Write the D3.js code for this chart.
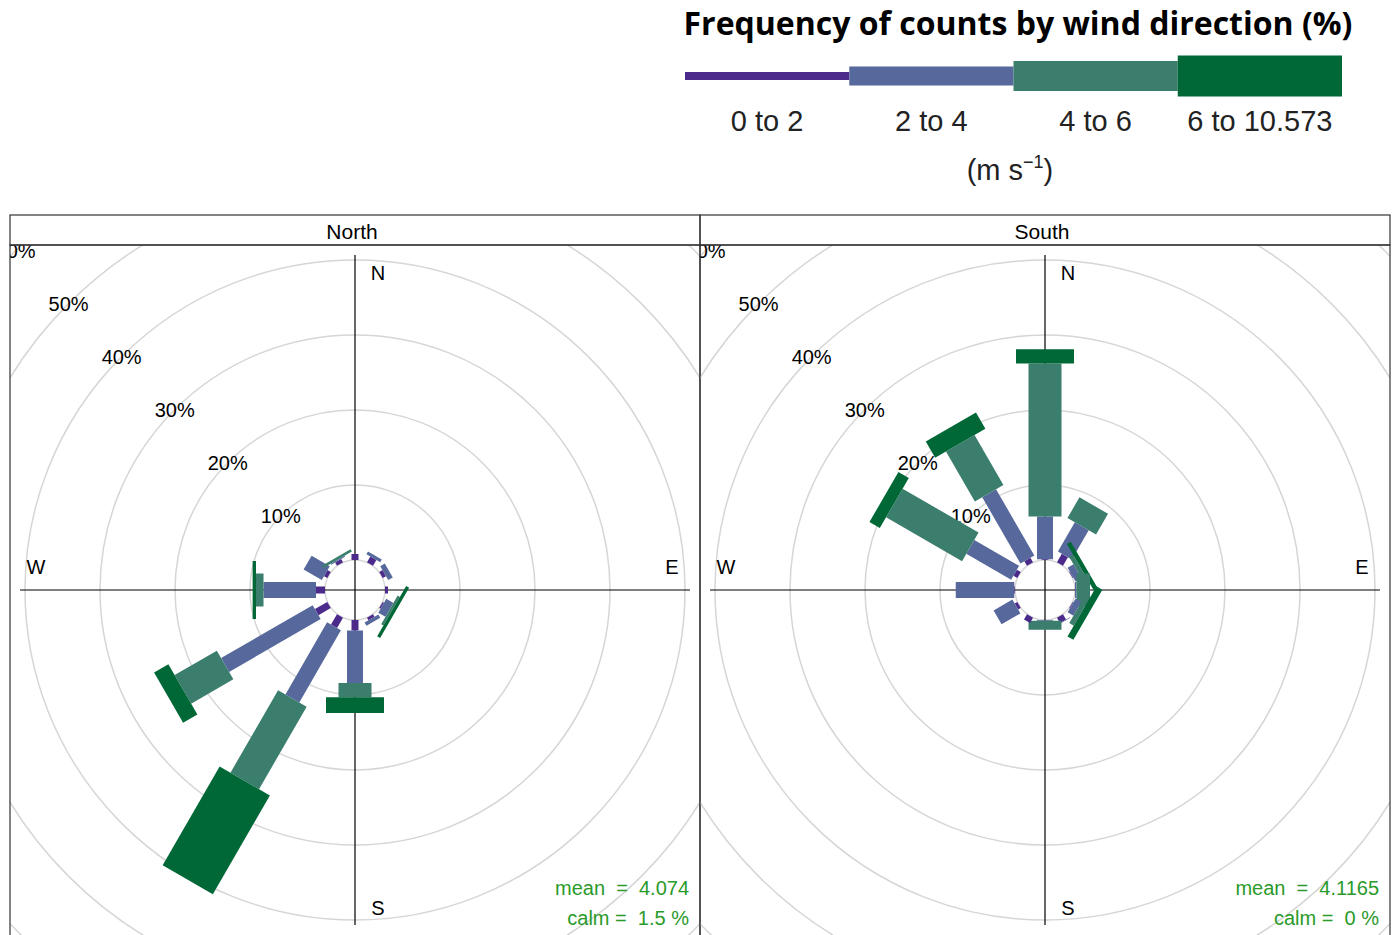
<!DOCTYPE html>
<html>
<head>
<meta charset="utf-8">
<script src="https://cdn.jsdelivr.net/npm/d3@7"></script>
<style>
  body { margin: 0; background: #fff; }
  svg text { font-family: "Liberation Sans", Arial, sans-serif; }
</style>
</head>
<body>
<svg id="chart" width="1394" height="935"></svg>
<script>
var width = 1394, height = 935;

// wind directions (degrees) and speed bins
var directions = [0, 30, 60, 90, 120, 150, 180, 210, 240, 270, 300, 330];
var speedBins = ['0 to 2', '2 to 4', '4 to 6', '6 to 10.573'];
var binColors = ['#4b2a8c', '#57699c', '#3c7e6d', '#006837'];
var panels = ['North', 'South'];
var gridTicks = [0, 10, 20, 30, 40, 50, 60];
var tickLabels = ['10%', '20%', '30%', '40%', '50%', '60%'];

// frequency (%) per direction, one array per speed bin
var north0to2 = [0.8, 0.9, 0.5, 0.4, 0.2, 0.4, 1.4, 1.6, 1.9, 1.2, 0.5, 0.5];
var north2to4 = [0, 0.4, 0.7, 0, 1.1, 0.5, 7.0, 11.1, 14.1, 7.0, 2.8, 0.15];
var north4to6 = [0, 0, 0, 0, 0.35, 0, 1.9, 12.7, 6.5, 1.0, 0, 0.35];
var north6plus = [0, 0, 0, 0, 0.45, 0, 2.1, 15.2, 2.2, 0.45, 0, 0];

var south0to2 = [0.1, 1.3, 0.1, 0, 0.1, 0.8, 0, 0.8, 0.4, 0.1, 0.6, 0.7];
var south2to4 = [5.7, 4.5, 0.9, 0.2, 0.9, 0.1, 0.1, 0, 2.9, 7.8, 6.9, 10.2];
var south4to6 = [20.4, 3.2, 0.6, 1.8, 0.7, 0, 1.2, 0, 0, 0, 11.7, 7.7];
var south6plus = [1.9, 0, 0.6, 0, 0.9, 0, 0, 0, 0, 0, 1.6, 2.5];

var meanSpeed = ['4.074', '4.1165'];
var calmPct = ['1.5', '0'];

var panelData = [
    [north0to2, north2to4, north4to6, north6plus],
    [south0to2, south2to4, south4to6, south6plus]
];

var svg = d3.select('#chart');

// ---- title + legend ----
svg.append('text')
    .attr('x', 1018).attr('y', 35)
    .attr('text-anchor', 'middle')
    .style('font-family', '"Open Sans", "Noto Sans", sans-serif')
    .style('font-weight', 700)
    .style('font-size', '32px')
    .text('Frequency of counts by wind direction (%)');

var legX = d3.scaleBand().domain(speedBins).range([685, 1342]);
var legH = d3.scaleOrdinal().domain(speedBins).range([8, 19, 30, 41]);
var color = d3.scaleOrdinal().domain(speedBins).range(binColors);

svg.append('g').selectAll('rect').data(speedBins).enter().append('rect')
    .attr('x', (d) => legX(d))
    .attr('width', legX.bandwidth())
    .attr('y', (d) => 76 - legH(d) / 2)
    .attr('height', (d) => legH(d))
    .attr('fill', (d) => color(d));

svg.append('g').selectAll('text').data(speedBins).enter().append('text')
    .attr('x', (d) => legX(d) + legX.bandwidth() / 2)
    .attr('y', 131)
    .attr('text-anchor', 'middle')
    .style('font-size', '29px')
    .attr('fill', '#222')
    .text((d) => d);

var unit = svg.append('text')
    .attr('x', 1010).attr('y', 180)
    .attr('text-anchor', 'middle')
    .style('font-size', '29px')
    .attr('fill', '#222');
unit.append('tspan').text('(m s');
unit.append('tspan').attr('dy', -12).style('font-size', '18px').text('\u22121');
unit.append('tspan').attr('dy', 12).text(')');

// ---- panels ----
var r = d3.scaleLinear().domain([0, 60]).range([30, 480]);
var binWidth = d3.scaleOrdinal().domain(speedBins).range([7, 16, 33, 58]);
var panelX = d3.scaleBand().domain(panels).range([10, 1390]);
var stripTop = 215, plotTop = 245, plotBottom = 940, cy = 590;

panels.forEach(function (name, pi) {
    var x0 = panelX(name), pw = panelX.bandwidth();
    var cx = x0 + pw / 2;

    svg.append('clipPath').attr('id', 'clip' + pi)
        .append('rect')
        .attr('x', x0).attr('y', plotTop)
        .attr('width', pw).attr('height', plotBottom - plotTop);

    var g = svg.append('g').attr('clip-path', 'url(#clip' + pi + ')');

    // grid rings
    g.selectAll('circle.grid').data(gridTicks).enter().append('circle')
        .attr('class', 'grid')
        .attr('cx', cx).attr('cy', cy)
        .attr('r', (d) => r(d))
        .attr('fill', 'none')
        .attr('stroke', '#d6d6d6')
        .attr('stroke-width', 1.5);

    // axes
    g.append('line').attr('x1', cx - 335).attr('x2', cx + 335)
        .attr('y1', cy).attr('y2', cy).attr('stroke', '#000').attr('stroke-width', 1.2);
    g.append('line').attr('x1', cx).attr('x2', cx)
        .attr('y1', cy - 335).attr('y2', cy + 335).attr('stroke', '#000').attr('stroke-width', 1.2);

    // percent labels along the NW diagonal (outermost one is clipped by the panel, as in the original)
    g.selectAll('text.pct').data(gridTicks.slice(1)).enter().append('text')
        .attr('class', 'pct')
        .attr('x', (d) => cx - r(d) * Math.SQRT1_2)
        .attr('y', (d) => cy - r(d) * Math.SQRT1_2 + 7)
        .attr('text-anchor', 'middle')
        .style('font-size', '20px')
        .text((d, i) => tickLabels[i]);

    // compass labels
    var compass = [
        { t: 'N', x: cx + 23, y: cy - 310 },
        { t: 'E', x: cx + 317, y: cy - 16 },
        { t: 'S', x: cx + 23, y: cy + 325 },
        { t: 'W', x: cx - 319, y: cy - 16 }
    ];
    g.selectAll('text.dir').data(compass).enter().append('text')
        .attr('class', 'dir')
        .attr('x', (d) => d.x).attr('y', (d) => d.y)
        .attr('text-anchor', 'middle')
        .style('font-size', '20px')
        .text((d) => d.t);

    // paddles
    var bins = panelData[pi];
    var paddles = [];
    directions.forEach(function (dir, di) {
        var cum = 0;
        speedBins.forEach(function (b, bi) {
            var v = bins[bi][di];
            if (v > 0) paddles.push({ dir: dir, bin: b, lo: cum, hi: cum + v });
            cum += v;
        });
    });
    g.selectAll('rect.paddle').data(paddles).enter().append('rect')
        .attr('class', 'paddle')
        .attr('transform', (d) => 'translate(' + cx + ',' + cy + ') rotate(' + d.dir + ')')
        .attr('x', (d) => -binWidth(d.bin) / 2)
        .attr('width', (d) => binWidth(d.bin))
        .attr('y', (d) => -r(d.hi))
        .attr('height', (d) => r(d.hi) - r(d.lo))
        .attr('fill', (d) => color(d.bin));

    // mean / calm
    g.append('text')
        .attr('x', x0 + pw - 11).attr('y', 895)
        .attr('text-anchor', 'end')
        .style('font-size', '20px').style('white-space', 'pre')
        .attr('fill', '#2a9a2a')
        .text('mean  =  ' + meanSpeed[pi]);
    g.append('text')
        .attr('x', x0 + pw - 11).attr('y', 925)
        .attr('text-anchor', 'end')
        .style('font-size', '20px').style('white-space', 'pre')
        .attr('fill', '#2a9a2a')
        .text('calm =  ' + calmPct[pi] + ' %');

    // strip + panel border
    svg.append('rect').attr('x', x0).attr('y', stripTop)
        .attr('width', pw).attr('height', plotTop - stripTop)
        .attr('fill', 'none').attr('stroke', '#333').attr('stroke-width', 1.2);
    svg.append('rect').attr('x', x0).attr('y', plotTop)
        .attr('width', pw).attr('height', plotBottom - plotTop)
        .attr('fill', 'none').attr('stroke', '#333').attr('stroke-width', 1.2);
    svg.append('text')
        .attr('x', cx - 3).attr('y', stripTop + 24)
        .attr('text-anchor', 'middle')
        .style('font-size', '21px')
        .text(name);
});
</script>
</body>
</html>
